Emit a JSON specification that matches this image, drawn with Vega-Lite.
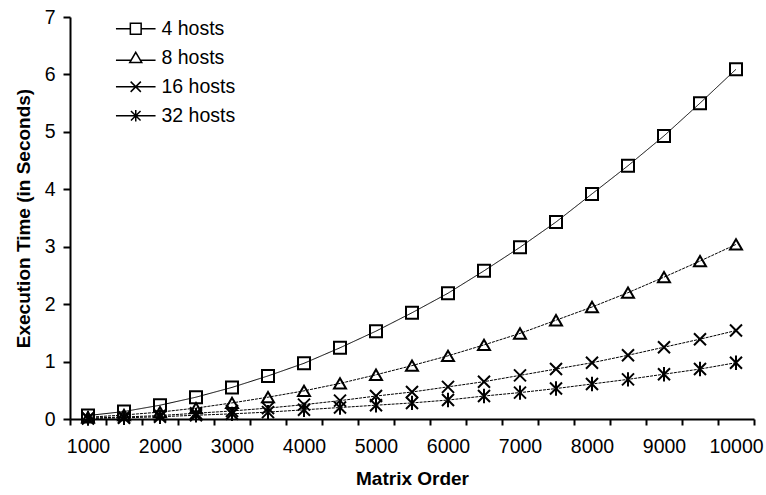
{
  "$schema": "https://vega.github.io/schema/vega-lite/v6.json",
  "width": 684,
  "height": 402,
  "autosize": "none",
  "padding": {"left": 70, "top": 17, "right": 12, "bottom": 76},
  "background": "white",
  "config": {
    "view": {"stroke": null},
    "font": "Liberation Sans",
    "axis": {"domainColor": "black", "tickColor": "black", "labelColor": "black", "titleColor": "black", "domainWidth": 2, "tickWidth": 2, "grid": false, "labelFont": "Liberation Sans", "titleFont": "Liberation Sans"},
    "legend": {"labelFont": "Liberation Sans", "labelColor": "black"}
  },
  "data": {
    "values": [
      {"n": 1000, "series": "4 hosts", "t": 0.06},
      {"n": 1500, "series": "4 hosts", "t": 0.13},
      {"n": 2000, "series": "4 hosts", "t": 0.24},
      {"n": 2500, "series": "4 hosts", "t": 0.38},
      {"n": 3000, "series": "4 hosts", "t": 0.55},
      {"n": 3500, "series": "4 hosts", "t": 0.75},
      {"n": 4000, "series": "4 hosts", "t": 0.97},
      {"n": 4500, "series": "4 hosts", "t": 1.24},
      {"n": 5000, "series": "4 hosts", "t": 1.53},
      {"n": 5500, "series": "4 hosts", "t": 1.85},
      {"n": 6000, "series": "4 hosts", "t": 2.19},
      {"n": 6500, "series": "4 hosts", "t": 2.58},
      {"n": 7000, "series": "4 hosts", "t": 2.99},
      {"n": 7500, "series": "4 hosts", "t": 3.43},
      {"n": 8000, "series": "4 hosts", "t": 3.92},
      {"n": 8500, "series": "4 hosts", "t": 4.41},
      {"n": 9000, "series": "4 hosts", "t": 4.93},
      {"n": 9500, "series": "4 hosts", "t": 5.5},
      {"n": 10000, "series": "4 hosts", "t": 6.09},
      {"n": 1000, "series": "8 hosts", "t": 0.03},
      {"n": 1500, "series": "8 hosts", "t": 0.07},
      {"n": 2000, "series": "8 hosts", "t": 0.12},
      {"n": 2500, "series": "8 hosts", "t": 0.19},
      {"n": 3000, "series": "8 hosts", "t": 0.28},
      {"n": 3500, "series": "8 hosts", "t": 0.38},
      {"n": 4000, "series": "8 hosts", "t": 0.49},
      {"n": 4500, "series": "8 hosts", "t": 0.62},
      {"n": 5000, "series": "8 hosts", "t": 0.77},
      {"n": 5500, "series": "8 hosts", "t": 0.93},
      {"n": 6000, "series": "8 hosts", "t": 1.1},
      {"n": 6500, "series": "8 hosts", "t": 1.29},
      {"n": 7000, "series": "8 hosts", "t": 1.49},
      {"n": 7500, "series": "8 hosts", "t": 1.72},
      {"n": 8000, "series": "8 hosts", "t": 1.95},
      {"n": 8500, "series": "8 hosts", "t": 2.2},
      {"n": 9000, "series": "8 hosts", "t": 2.47},
      {"n": 9500, "series": "8 hosts", "t": 2.75},
      {"n": 10000, "series": "8 hosts", "t": 3.04},
      {"n": 1000, "series": "16 hosts", "t": 0.015},
      {"n": 1500, "series": "16 hosts", "t": 0.035},
      {"n": 2000, "series": "16 hosts", "t": 0.06},
      {"n": 2500, "series": "16 hosts", "t": 0.1},
      {"n": 3000, "series": "16 hosts", "t": 0.14},
      {"n": 3500, "series": "16 hosts", "t": 0.19},
      {"n": 4000, "series": "16 hosts", "t": 0.25},
      {"n": 4500, "series": "16 hosts", "t": 0.32},
      {"n": 5000, "series": "16 hosts", "t": 0.4},
      {"n": 5500, "series": "16 hosts", "t": 0.47},
      {"n": 6000, "series": "16 hosts", "t": 0.56},
      {"n": 6500, "series": "16 hosts", "t": 0.65},
      {"n": 7000, "series": "16 hosts", "t": 0.76},
      {"n": 7500, "series": "16 hosts", "t": 0.87},
      {"n": 8000, "series": "16 hosts", "t": 0.98},
      {"n": 8500, "series": "16 hosts", "t": 1.11},
      {"n": 9000, "series": "16 hosts", "t": 1.25},
      {"n": 9500, "series": "16 hosts", "t": 1.39},
      {"n": 10000, "series": "16 hosts", "t": 1.54},
      {"n": 1000, "series": "32 hosts", "t": 0.01},
      {"n": 1500, "series": "32 hosts", "t": 0.02},
      {"n": 2000, "series": "32 hosts", "t": 0.04},
      {"n": 2500, "series": "32 hosts", "t": 0.065},
      {"n": 3000, "series": "32 hosts", "t": 0.09},
      {"n": 3500, "series": "32 hosts", "t": 0.12},
      {"n": 4000, "series": "32 hosts", "t": 0.16},
      {"n": 4500, "series": "32 hosts", "t": 0.2},
      {"n": 5000, "series": "32 hosts", "t": 0.24},
      {"n": 5500, "series": "32 hosts", "t": 0.28},
      {"n": 6000, "series": "32 hosts", "t": 0.33},
      {"n": 6500, "series": "32 hosts", "t": 0.4},
      {"n": 7000, "series": "32 hosts", "t": 0.46},
      {"n": 7500, "series": "32 hosts", "t": 0.53},
      {"n": 8000, "series": "32 hosts", "t": 0.61},
      {"n": 8500, "series": "32 hosts", "t": 0.69},
      {"n": 9000, "series": "32 hosts", "t": 0.78},
      {"n": 9500, "series": "32 hosts", "t": 0.87},
      {"n": 10000, "series": "32 hosts", "t": 0.98}
    ]
  },
  "layer": [
    {
      "mark": {"type": "line", "color": "black", "strokeWidth": 1},
      "encoding": {
        "x": {"field": "n", "type": "quantitative", "scale": {"domain": [750, 10250], "nice": false, "zero": false},
          "axis": {"orient": "bottom", "values": [1000, 2000, 3000, 4000, 5000, 6000, 7000, 8000, 9000, 10000], "format": "d", "ticks": false, "domain": false, "labelPadding": 18, "labelFontSize": 19.5, "title": "Matrix Order", "titleFontSize": 19, "titleFontWeight": "bold", "titlePadding": 14}},
        "y": {"field": "t", "type": "quantitative", "scale": {"domain": [0, 7], "nice": false},
          "axis": {"values": [0, 1, 2, 3, 4, 5, 6, 7], "format": "d", "tickSize": 7, "labelPadding": 8, "labelFontSize": 19.5, "title": "Execution Time (in Seconds)", "titleFontSize": 19, "titleFontWeight": "bold", "titlePadding": 11}},
        "detail": {"field": "series", "type": "nominal"},
        "strokeDash": {"condition": {"test": "datum.series == '4 hosts'", "value": [1, 0]}, "value": [3, 1]}
      }
    },
    {
      "mark": {"type": "point", "filled": false, "color": "black", "strokeWidth": 2, "size": 144, "opacity": 1},
      "encoding": {
        "x": {"field": "n", "type": "quantitative",
          "axis": {"orient": "bottom", "values": [750, 1250, 1750, 2250, 2750, 3250, 3750, 4250, 4750, 5250, 5750, 6250, 6750, 7250, 7750, 8250, 8750, 9250, 9750, 10250], "labels": false, "tickSize": 6, "title": null}},
        "y": {"field": "t", "type": "quantitative"},
        "shape": {"field": "series", "type": "nominal", "legend": null,
          "scale": {"domain": ["4 hosts", "8 hosts", "16 hosts", "32 hosts"], "range": ["square", "triangle-up", "M-1,-1L1,1M-1,1L1,-1", "M-1,-1L1,1M-1,1L1,-1M0,-1.2L0,1.2"]}}
      }
    },
    {
      "mark": {"type": "point", "filled": false, "color": "black", "strokeWidth": 1.5, "size": 0, "opacity": 1},
      "encoding": {
        "x": {"field": "n", "type": "quantitative", "axis": null},
        "y": {"field": "t", "type": "quantitative"},
        "shape": {"field": "series", "type": "nominal",
          "scale": {"domain": ["4 hosts", "8 hosts", "16 hosts", "32 hosts"], "range": ["M-3.3,0L-0.9,0M0.9,0L3.3,0M-0.9,-0.9L0.9,-0.9L0.9,0.9L-0.9,0.9Z", "M-3.3,0.4L-0.75,0.4M0.75,0.4L3.3,0.4M0,-0.9L1,0.8L-1,0.8Z", "M-3.3,0L3.3,0M-0.85,-0.85L0.85,0.85M-0.85,0.85L0.85,-0.85", "M-3.3,0L3.3,0M-0.8,-0.8L0.8,0.8M-0.8,0.8L0.8,-0.8M0,-0.95L0,0.95"]},
          "legend": {"title": null, "orient": "none", "legendX": 56, "legendY": 2, "labelFontSize": 19.5, "labelOffset": 16, "rowPadding": 8, "symbolSize": 144, "symbolStrokeWidth": 1.5, "symbolStrokeColor": "black"}
        }
      }
    }
  ],
  "resolve": {"axis": {"x": "independent"}, "scale": {"shape": "independent"}}
}
